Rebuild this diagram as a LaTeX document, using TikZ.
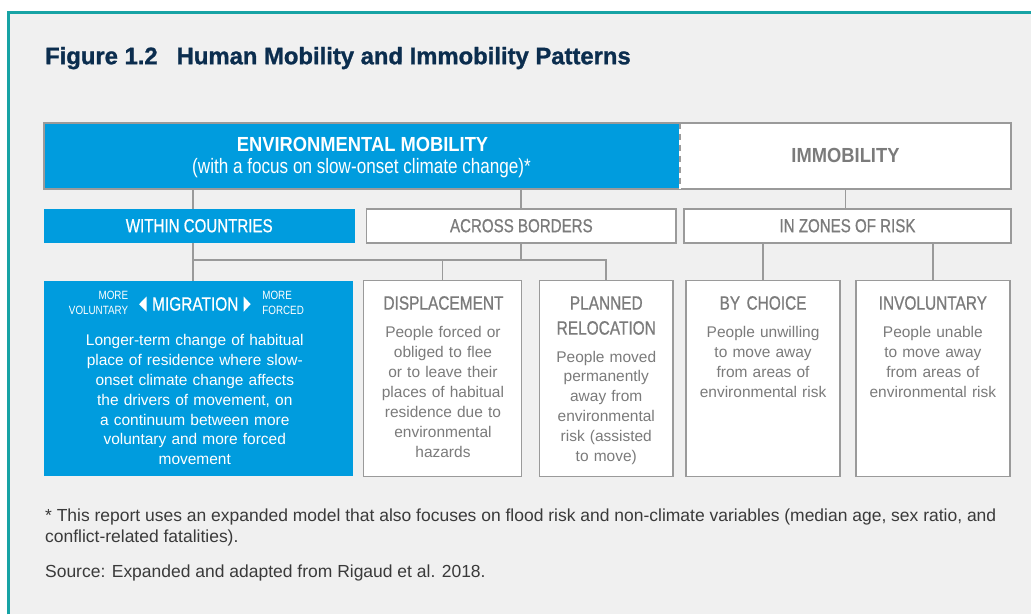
\documentclass[tikz,border=0pt]{standalone}
\usepackage{fontspec}
\setmainfont{Liberation Sans}
\newfontfamily\cnd[FakeStretch=0.80,FakeBold=0.7]{Liberation Sans}
\newfontfamily\cndl[FakeStretch=0.82]{Liberation Sans}
\newfontfamily\cndb[FakeStretch=0.9]{Liberation Sans Bold}
\newfontfamily\ttlf[FakeBold=1.2]{Liberation Sans Bold}
\definecolor{bgc}{HTML}{F0F0F0}
\definecolor{frameteal}{HTML}{17A3A5}
\definecolor{unblue}{HTML}{009CDE}
\definecolor{lgray}{HTML}{9A9A9A}
\definecolor{tgray}{HTML}{7B7B7B}
\definecolor{navy}{HTML}{0B2D4E}
\definecolor{ftxt}{HTML}{3A3A3A}
\tikzset{
  boxbase/.style={rectangle, inner sep=0pt, outer sep=0pt, anchor=north west},
  bluebox/.style={boxbase, fill=unblue},
  whitebox/.style={boxbase, fill=white, draw=lgray, line width=1.6pt},
  conn/.style={draw=lgray, line width=1.8pt},
  hdw/.style={font=\cnd\fontsize{18.9}{22}\selectfont, text=white},
  hdg/.style={font=\cnd\fontsize{18.9}{22}\selectfont, text=tgray},
  bhead/.style={font=\cnd\fontsize{19.3}{25}\selectfont, text=tgray, anchor=base, text width=150pt, align=center, inner sep=0pt},
  body/.style={font=\fontsize{15.5}{19.9}\selectfont, text=tgray, anchor=base, align=center, inner sep=0pt},
  foot/.style={font=\fontsize{17.5}{20}\selectfont, text=ftxt, anchor=base west, inner sep=0pt},
}
\begin{document}
\begin{tikzpicture}[x=1pt,y=-1pt]
\fill[white] (0,0) rectangle (1032,615);
\fill[bgc] (8,12) rectangle (1032,615);
\draw[frameteal, line width=2.5pt] (8.75,615) -- (8.75,12.75) -- (1032,12.75);
\useasboundingbox (0,0) rectangle (1032,615);

% title
\node[anchor=base west, inner sep=0pt, font=\ttlf\fontsize{23.85}{28}\selectfont, text=navy] (title) at (45,64.3) {Figure 1.2\hspace{0.8em}Human Mobility and Immobility Patterns};

% top row
\node[bluebox, draw=lgray, line width=1.6pt, minimum width=637pt, minimum height=66pt] (env) at (44,123) {};
\node[whitebox, minimum width=331pt, minimum height=66pt] (imm) at (681,123) {};
\draw[white, line width=2pt] (env.north east) -- (env.south east);
\draw[lgray, line width=2pt, dash pattern=on 6pt off 5pt] (env.north east) -- (env.south east);
\node[anchor=base, inner sep=0pt, font=\cndb\fontsize{20.4}{24}\selectfont, text=white] (envt) at (363,152) {ENVIRONMENTAL MOBILITY};
\node[anchor=base, inner sep=0pt, font=\cndl\fontsize{20.9}{24}\selectfont, text=white] (envs) at (362,174) {(with a focus on slow-onset climate change)*};
\node[anchor=base, inner sep=0pt, font=\cndb\fontsize{20.4}{24}\selectfont, text=tgray] (immt) at (846.5,163) {IMMOBILITY};

% second row
\node[bluebox, minimum width=311pt, minimum height=34pt, hdw] (within) at (44,209) {WITHIN COUNTRIES};
\node[whitebox, minimum width=310pt, minimum height=34pt, hdg] (across) at (367,209) {ACROSS BORDERS};
\node[whitebox, minimum width=327pt, minimum height=34pt, hdg] (zones) at (685,209) {IN ZONES OF RISK};

% third row
\node[bluebox, minimum width=309pt, minimum height=196pt] (mig) at (44,281) {};
\node[whitebox, minimum width=158pt, minimum height=196pt] (disp) at (364,281) {};
\node[whitebox, minimum width=134pt, minimum height=196pt] (plan) at (540,281) {};
\node[whitebox, minimum width=154pt, minimum height=196pt] (choice) at (687,281) {};
\node[whitebox, minimum width=154pt, minimum height=196pt] (invol) at (857,281) {};

% connectors
\coordinate (hub) at (193,260);
\draw[conn] (env.south -| hub) -- (within.north -| hub);
\draw[conn] (within.south -| hub) -- (mig.north -| hub);
\draw[conn] (env.south -| across.north) -- (across.north);
\draw[conn] (imm.south) -- (imm.south |- zones.north);
\draw[conn] (across.south) -- (across.south |- hub);
\draw[conn] (hub) -- (hub -| plan.north) -- (plan.north);
\draw[conn] (hub -| disp.north) -- (disp.north);
\draw[conn] (zones.south -| choice.north) -- (choice.north);
\draw[conn] (zones.south -| invol.north) -- (invol.north);

% migration header
\node[anchor=base east, text width=70pt, align=right, inner sep=0pt, font=\cndl\fontsize{12}{15}\selectfont, text=white] (mvol) at (128.5,300) {MORE\\VOLUNTARY};
\node[anchor=base west, text width=70pt, align=left, inner sep=0pt, font=\cndl\fontsize{12}{15}\selectfont, text=white] (mfor) at (262.5,300) {MORE\\FORCED};
\node[anchor=base, inner sep=0pt, font=\cnd\fontsize{19.3}{25}\selectfont, text=white] (migt) at (195.5,311) {MIGRATION};
\fill[white] (139.3,304.5) -- (146.7,297) -- (146.7,312) -- cycle;
\fill[white] (251,304.5) -- (244,297) -- (244,312) -- cycle;
\node[body, text=white, text width=300pt] (migb) at (195,346) {Longer-term change of habitual\\place of residence where slow-\\onset climate change affects\\the drivers of movement, on\\a continuum between more\\voluntary and more forced\\movement};

% displacement
\node[bhead] (dispt) at (444,310) {DISPLACEMENT};
\node[body, text width=156pt, font=\fontsize{15.5}{20}\selectfont] (dispb) at (443.5,338) {People forced or\\obliged to flee\\or to leave their\\places of habitual\\residence due to\\environmental\\hazards};

% planned relocation
\node[bhead] (plant) at (607,310) {PLANNED\\RELOCATION};
\node[body, text width=132pt] (planb) at (607,362.5) {People moved\\permanently\\away from\\environmental\\risk (assisted\\to move)};

% by choice
\node[bhead] (choicet) at (764,310) {BY CHOICE};
\node[body, text width=152pt, font=\fontsize{15.5}{20}\selectfont] (choiceb) at (764,338) {People unwilling\\to move away\\from areas of\\environmental risk};

% involuntary
\node[bhead] (involt) at (934,310) {INVOLUNTARY};
\node[body, text width=152pt, font=\fontsize{15.5}{20}\selectfont] (involb) at (934,338) {People unable\\to move away\\from areas of\\environmental risk};

% footnotes
\node[foot] (fn1) at (45,522) {* This report uses an expanded model that also focuses on flood risk and non-climate variables (median age, sex ratio, and};
\node[foot] (fn2) at (45,543) {conflict-related fatalities).};
\node[foot] (src) at (45,578) {Source: Expanded and adapted from Rigaud et al. 2018.};
\end{tikzpicture}
\end{document}
